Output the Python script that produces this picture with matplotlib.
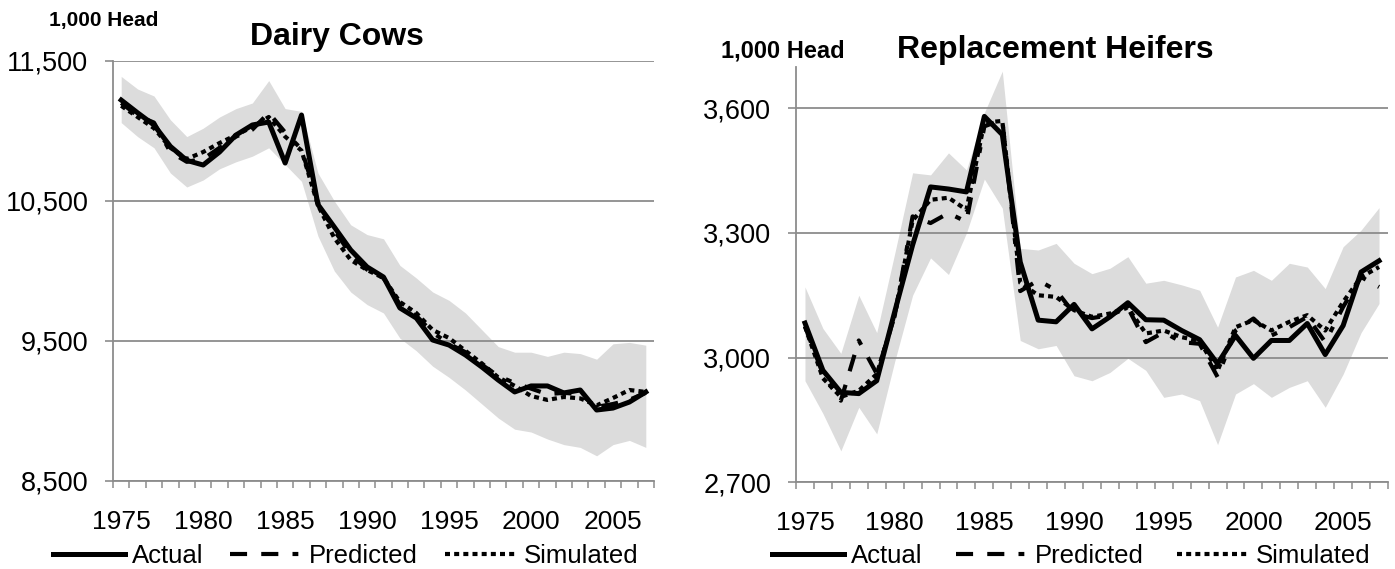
import numpy as np
import matplotlib
matplotlib.use("Agg")
import matplotlib.pyplot as plt
from matplotlib.ticker import StrMethodFormatter

# ---- data (1,000 head) ----
years = list(range(1975, 2008))
label_years = [1975, 1980, 1985, 1990, 1995, 2000, 2005]

cows_actual = [11221, 11130, 11043, 10890, 10790, 10757, 10850, 10971, 11043, 11064,
               10771, 11114, 10475, 10314, 10150, 10029, 9957, 9736, 9664, 9507,
               9471, 9400, 9314, 9221, 9136, 9179, 9179, 9129, 9150, 9007,
               9021, 9064, 9136]
cows_predicted = [11200, 11110, 11060, 10850, 10780, 10800, 10880, 10960, 11010, 11130,
                  10990, 10870, 10490, 10290, 10120, 10010, 9950, 9760, 9680, 9560,
                  9480, 9420, 9330, 9250, 9200, 9160, 9120, 9130, 9120, 9030,
                  9050, 9080, 9130]
cows_simulated = [11180, 11100, 11020, 10880, 10800, 10850, 10914, 10971, 11029, 11100,
                  10960, 10860, 10470, 10236, 10079, 10007, 9950, 9779, 9700, 9579,
                  9521, 9430, 9340, 9240, 9180, 9107, 9079, 9100, 9090, 9040,
                  9093, 9150, 9136]
cows_upper = [11390, 11300, 11250, 11080, 10960, 11020, 11100, 11160, 11200, 11360,
              11160, 11140, 10700, 10500, 10330, 10260, 10230, 10040, 9950, 9850,
              9790, 9700, 9580, 9460, 9420, 9420, 9390, 9420, 9410, 9370,
              9480, 9490, 9470]
cows_lower = [11060, 10960, 10880, 10700, 10600, 10650, 10730, 10780, 10820, 10880,
              10760, 10640, 10250, 10000, 9850, 9760, 9700, 9520, 9430, 9320,
              9240, 9150, 9050, 8950, 8870, 8850, 8800, 8760, 8740, 8680,
              8760, 8790, 8740]

heif_actual = [3083, 2969, 2916, 2913, 2944, 3110, 3271, 3411, 3406, 3399,
               3581, 3537, 3230, 3090, 3086, 3128, 3069, 3098, 3132, 3091,
               3090, 3065, 3043, 2985, 3053, 2998, 3041, 3041, 3082, 3007,
               3077, 3206, 3233]
heif_predicted = [3075, 2960, 2896, 3041, 2961, 3100, 3340, 3324, 3348, 3327,
                  3557, 3573, 3160, 3186, 3162, 3106, 3095, 3102, 3120, 3037,
                  3061, 3037, 3033, 2953, 3065, 3094, 3053, 3073, 3098, 3037,
                  3122, 3194, 3170]
heif_simulated = [3075, 2950, 2905, 2920, 2960, 3100, 3330, 3380, 3385, 3356,
                  3566, 3570, 3180, 3150, 3146, 3114, 3098, 3106, 3120, 3058,
                  3065, 3049, 3040, 2968, 3073, 3090, 3065, 3086, 3102, 3065,
                  3134, 3194, 3218]
heif_upper = [3170, 3070, 3010, 3150, 3060, 3250, 3445, 3440, 3493, 3452,
              3590, 3690, 3263, 3259, 3275, 3227, 3202, 3215, 3243, 3179,
              3186, 3175, 3162, 3073, 3194, 3210, 3186, 3227, 3218, 3166,
              3267, 3307, 3361]
heif_lower = [2944, 2865, 2775, 2880, 2816, 2990, 3150, 3240, 3200, 3300,
              3430, 3360, 3041, 3021, 3029, 2956, 2944, 2964, 2998, 2969,
              2904, 2912, 2896, 2790, 2912, 2937, 2904, 2928, 2944, 2880,
              2960, 3060, 3130]

cows_ticks = [8500, 9500, 10500, 11500]
heif_ticks = [2700, 3000, 3300, 3600]

plt.rcParams["font.family"] = ["Liberation Sans", "DejaVu Sans"]

GRID = "#8c8c8c"
BAND = "#dcdcdc"
W, H = 1395, 569


def draw_panel(ax, actual, predicted, simulated, lower, upper, ylim, yticks):
    ax.fill_between(years, lower, upper, color=BAND, linewidth=0, zorder=0.3)
    ax.plot(years, actual, color="black", lw=3.6, zorder=4, label="Actual")
    ax.plot(years, predicted, color="black", lw=3.0, zorder=3, label="Predicted",
            linestyle=(0, (4.1, 3.4, 4.1, 3.4, 1.4, 3.4)))
    ax.plot(years, simulated, color="black", lw=3.0, zorder=3, label="Simulated",
            linestyle=(0, (1.2, 1.0)))

    ax.set_xlim(1974.5, 2007.5)
    ax.set_ylim(*ylim)
    ax.set_yticks(yticks)
    ax.yaxis.set_major_formatter(StrMethodFormatter("{x:,.0f}"))
    ax.set_xticks(label_years)
    ax.set_xticks(np.arange(1974.5, 2008, 1), minor=True)

    ax.set_axisbelow(True)
    ax.yaxis.grid(True, color=GRID, lw=1.3)
    for side in ["top", "right"]:
        ax.spines[side].set_visible(False)
    for side in ["left", "bottom"]:
        ax.spines[side].set_color(GRID)
        ax.spines[side].set_linewidth(1.3)

    ax.tick_params(axis="y", direction="out", length=5.8, width=1.2, color=GRID,
                   labelsize=19.5, pad=12)
    ax.tick_params(axis="x", which="major", length=0, labelsize=19, pad=21)
    ax.tick_params(axis="x", which="minor", direction="out", length=5, width=1.1,
                   color=GRID)


fig = plt.figure(figsize=(W / 100, H / 100), dpi=100)

ax1 = fig.add_axes([113 / W, 1 - 481 / H, 541 / W, 420 / H])
draw_panel(ax1, cows_actual, cows_predicted, cows_simulated, cows_lower, cows_upper,
           (8500, 11500), cows_ticks)

ax2 = fig.add_axes([796 / W, 1 - 482 / H, 592 / W, 415 / H])
draw_panel(ax2, heif_actual, heif_predicted, heif_simulated, heif_lower, heif_upper,
           (2700, 3700), heif_ticks)

# titles and unit labels
fig.text(337 / W, 1 - 45 / H, "Dairy Cows", fontsize=23, fontweight="bold",
         ha="center", va="baseline")
fig.text(1055 / W, 1 - 58 / H, "Replacement Heifers", fontsize=23, fontweight="bold",
         ha="center", va="baseline")
fig.text(49 / W, 1 - 26 / H, "1,000 Head", fontsize=15, fontweight="bold",
         ha="left", va="baseline")
fig.text(721 / W, 1 - 57 / H, "1,000 Head", fontsize=17, fontweight="bold",
         ha="left", va="baseline")

# legends below each panel
for ax, x0, cs in [(ax1, 53, 1.05), (ax2, 772, 1.3)]:
    ax.legend(loc="center left", bbox_to_anchor=(x0 / W, 1 - 556 / H),
              bbox_transform=fig.transFigure, ncol=3, frameon=False, fontsize=18.5,
              handlelength=2.8, handletextpad=0.27, columnspacing=cs,
              borderpad=0, borderaxespad=0)

fig.savefig("out.png", dpi=100)
